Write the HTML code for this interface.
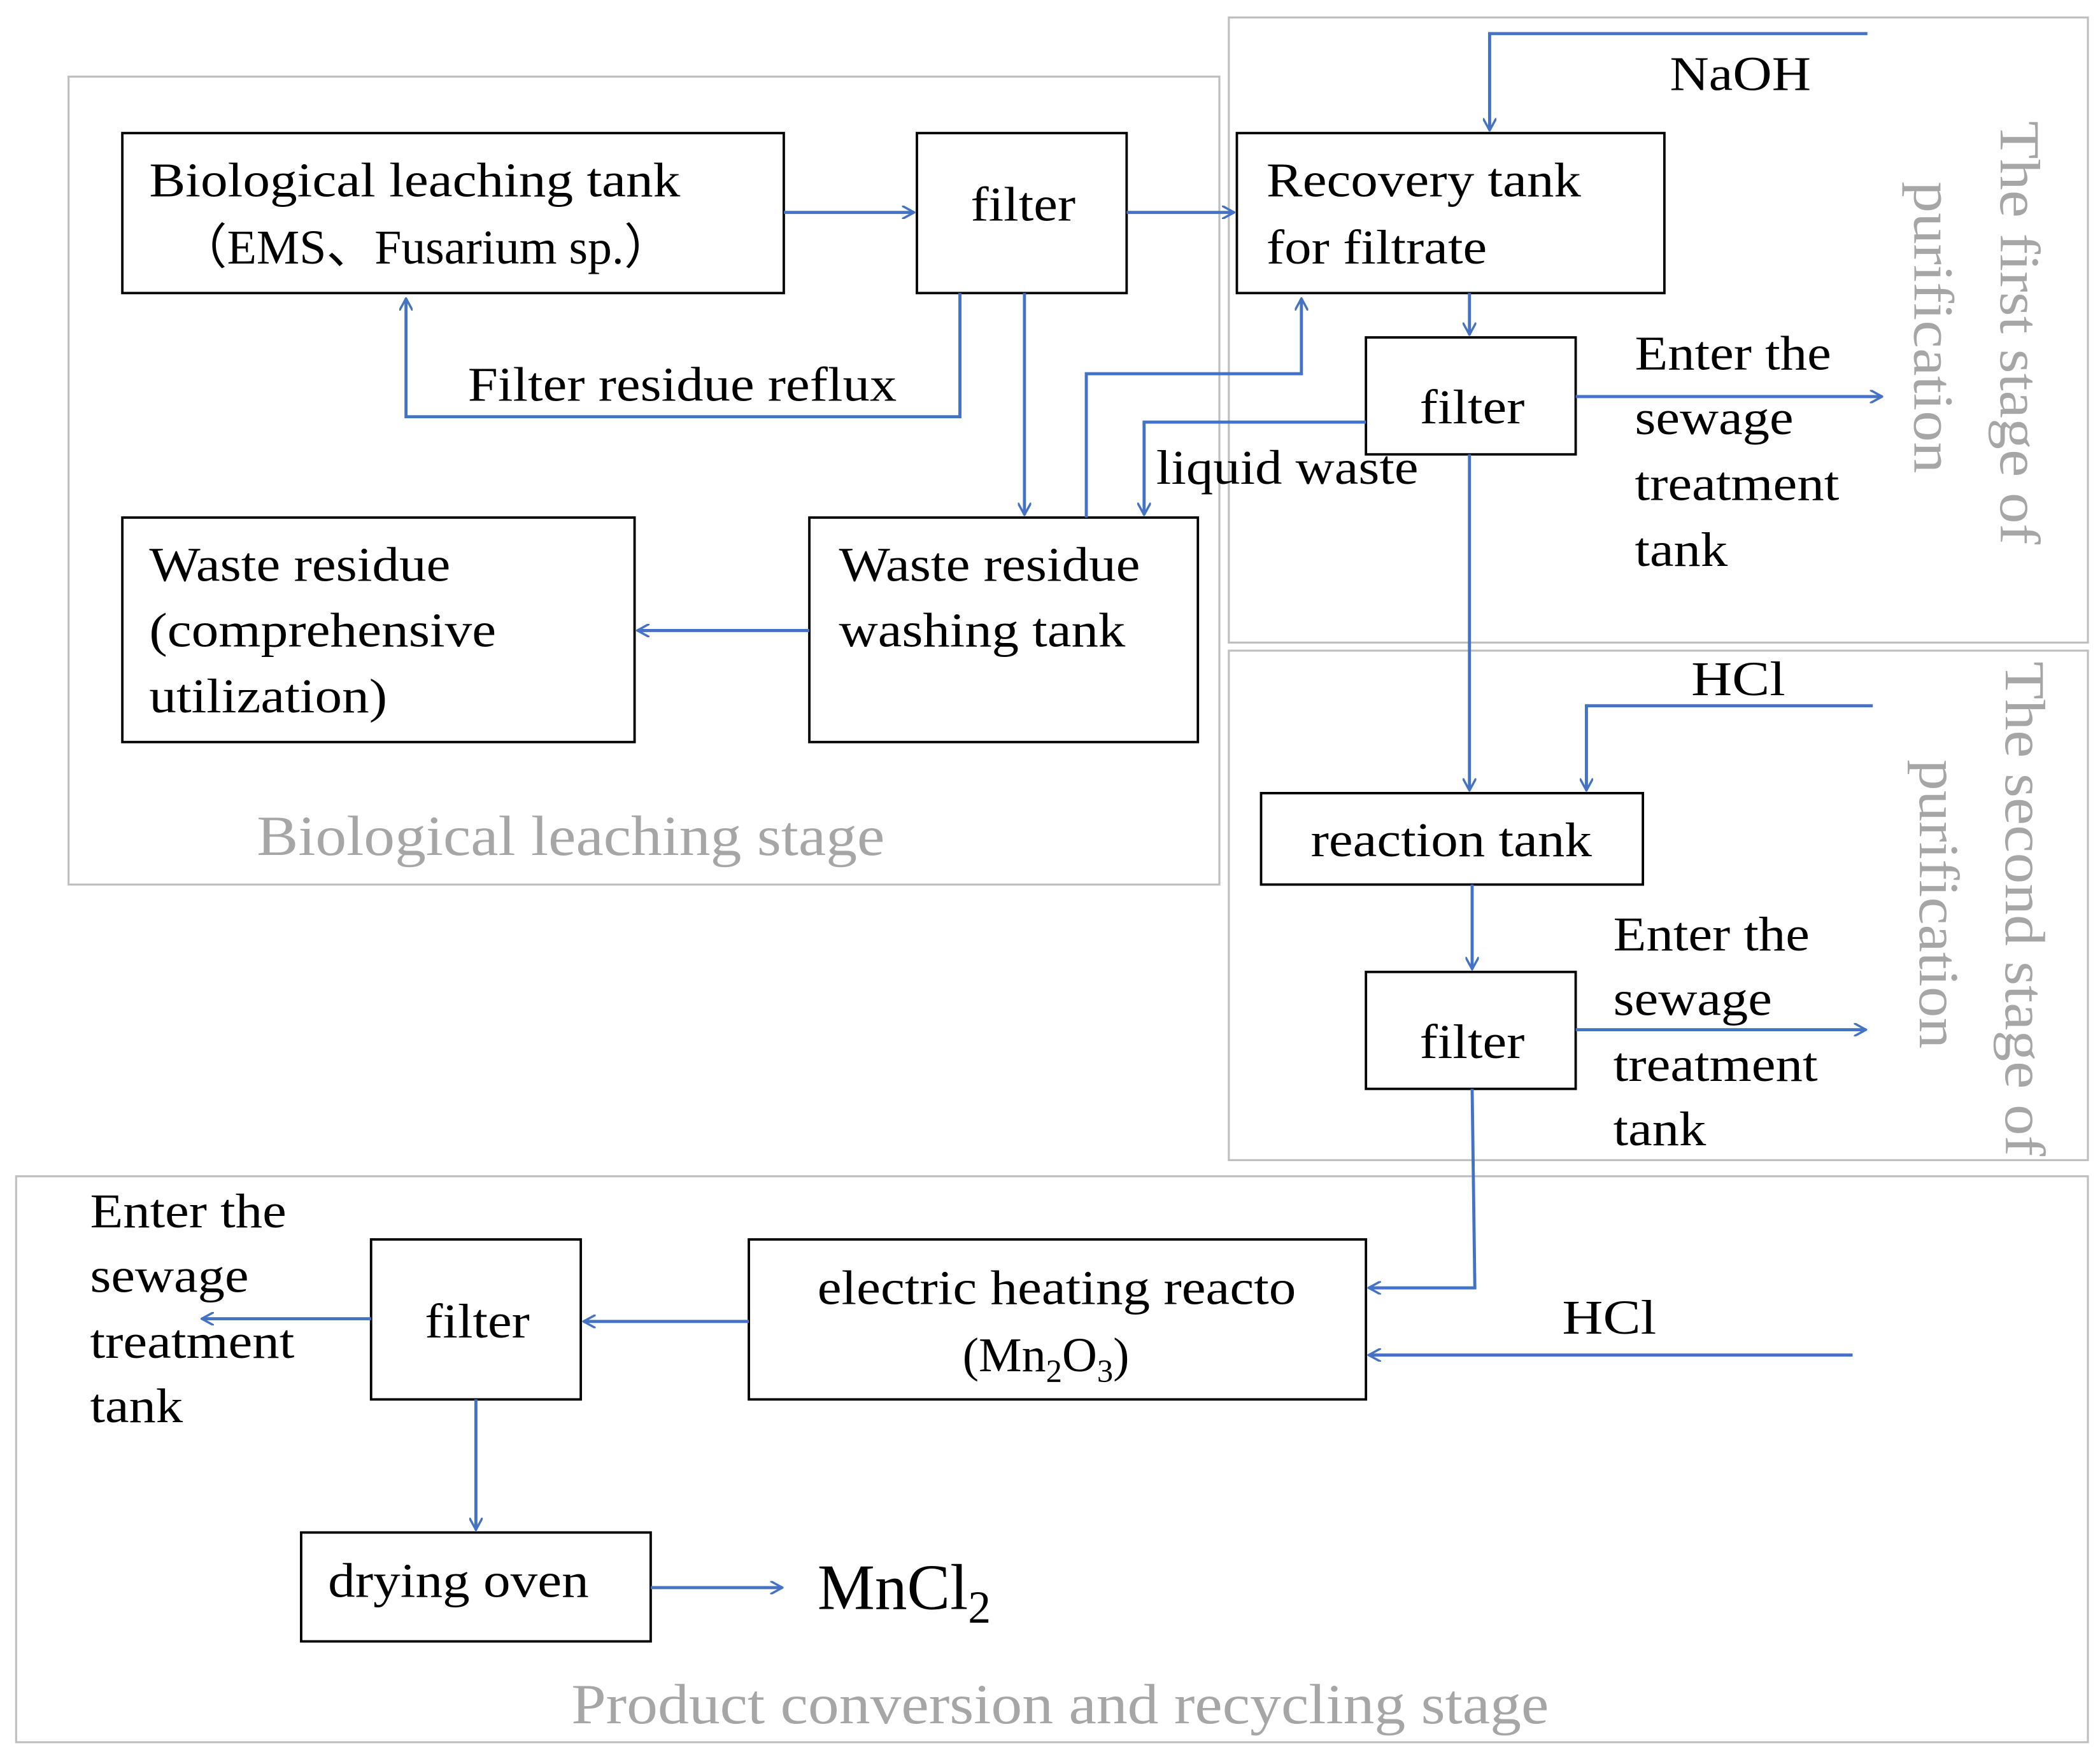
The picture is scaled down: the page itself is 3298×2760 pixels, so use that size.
<!DOCTYPE html>
<html><head><meta charset="utf-8"><style>
html,body{margin:0;padding:0;background:#fff;}
svg{display:block;}
text{font-family:"Liberation Serif",serif;fill:#000;}
.g{fill:#a6a6a6;}
</style></head><body>
<svg width="3298" height="2760" viewBox="0 0 1562 1307" preserveAspectRatio="none" xmlns="http://www.w3.org/2000/svg">
<defs>
<marker id="a" viewBox="0 0 12 12" refX="11" refY="6" markerWidth="10" markerHeight="10" markerUnits="userSpaceOnUse" orient="auto">
<path d="M0,0 L11,6 L0,12" fill="none" stroke="#4472c4" stroke-width="2"/>
</marker>
</defs>
<g fill="none" stroke="#bfbfbf" stroke-width="1.5">
<rect x="51" y="57" width="856" height="601"/>
<rect x="914" y="13" width="639" height="465"/>
<rect x="914" y="484" width="639" height="379"/>
<rect x="12" y="875" width="1541" height="421"/>
</g>
<g fill="none" stroke="#000" stroke-width="1.8">
<rect x="91" y="99" width="492" height="119"/>
<rect x="682" y="99" width="156" height="119"/>
<rect x="920" y="99" width="318" height="119"/>
<rect x="1016" y="251" width="156" height="87"/>
<rect x="91" y="385" width="381" height="167"/>
<rect x="602" y="385" width="289" height="167"/>
<rect x="938" y="590" width="284" height="68"/>
<rect x="1016" y="723" width="156" height="87"/>
<rect x="557" y="922" width="459" height="119"/>
<rect x="276" y="922" width="156" height="119"/>
<rect x="224" y="1140" width="260" height="81"/>
</g>
<g fill="none" stroke="#4472c4" stroke-width="2.3" marker-end="url(#a)">
<path d="M583,158 L680,158"/>
<path d="M838,158 L918,158"/>
<path d="M1389,25 L1108,25 L1108,97"/>
<path d="M1093,218 L1093,249"/>
<path d="M1172,295 L1400,295"/>
<path d="M714,218 L714,310 L302,310 L302,222"/>
<path d="M762,218 L762,383"/>
<path d="M808,385 L808,278 L968,278 L968,222"/>
<path d="M1016,314 L851,314 L851,383"/>
<path d="M602,469 L474,469"/>
<path d="M1093,338 L1093,588"/>
<path d="M1393,525 L1180,525 L1180,588"/>
<path d="M1095,658 L1095,721"/>
<path d="M1172,766 L1388,766"/>
<path d="M1095,810 L1097,958 L1018,958"/>
<path d="M1378,1008 L1018,1008"/>
<path d="M557,983 L434,983"/>
<path d="M276,981 L150,981"/>
<path d="M354,1041 L354,1138"/>
<path d="M484,1181 L582,1181"/>
</g>
<g font-size="36" lengthAdjust="spacingAndGlyphs">
<text x="111" y="146" textLength="395" lengthAdjust="spacingAndGlyphs">Biological leaching tank</text>
<text x="133" y="196" textLength="367" lengthAdjust="spacingAndGlyphs">（EMS、Fusarium sp.）</text>
<text x="722" y="164" textLength="78" lengthAdjust="spacingAndGlyphs">filter</text>
<text x="942" y="146" textLength="234" lengthAdjust="spacingAndGlyphs">Recovery tank</text>
<text x="942" y="196" textLength="164" lengthAdjust="spacingAndGlyphs">for filtrate</text>
<text x="1242" y="67" textLength="105" lengthAdjust="spacingAndGlyphs">NaOH</text>
<text x="348" y="298" textLength="319" lengthAdjust="spacingAndGlyphs">Filter residue reflux</text>
<text x="1056" y="315" textLength="78" lengthAdjust="spacingAndGlyphs">filter</text>
<text x="860" y="360" textLength="195" lengthAdjust="spacingAndGlyphs">liquid waste</text>
<text x="1216" y="275" textLength="146" lengthAdjust="spacingAndGlyphs">Enter the</text>
<text x="1216" y="323" textLength="118" lengthAdjust="spacingAndGlyphs">sewage</text>
<text x="1216" y="372" textLength="152" lengthAdjust="spacingAndGlyphs">treatment</text>
<text x="1216" y="421" textLength="69" lengthAdjust="spacingAndGlyphs">tank</text>
<text x="111" y="432" textLength="224" lengthAdjust="spacingAndGlyphs">Waste residue</text>
<text x="111" y="481" textLength="258" lengthAdjust="spacingAndGlyphs">(comprehensive</text>
<text x="111" y="530" textLength="177" lengthAdjust="spacingAndGlyphs">utilization)</text>
<text x="624" y="432" textLength="224" lengthAdjust="spacingAndGlyphs">Waste residue</text>
<text x="624" y="481" textLength="213" lengthAdjust="spacingAndGlyphs">washing tank</text>
<text x="1258" y="517" textLength="70" lengthAdjust="spacingAndGlyphs">HCl</text>
<text x="975" y="637" textLength="209" lengthAdjust="spacingAndGlyphs">reaction tank</text>
<text x="1056" y="787" textLength="78" lengthAdjust="spacingAndGlyphs">filter</text>
<text x="1200" y="707" textLength="146" lengthAdjust="spacingAndGlyphs">Enter the</text>
<text x="1200" y="755" textLength="118" lengthAdjust="spacingAndGlyphs">sewage</text>
<text x="1200" y="804" textLength="152" lengthAdjust="spacingAndGlyphs">treatment</text>
<text x="1200" y="852" textLength="69" lengthAdjust="spacingAndGlyphs">tank</text>
<text x="67" y="913" textLength="146" lengthAdjust="spacingAndGlyphs">Enter the</text>
<text x="67" y="961" textLength="118" lengthAdjust="spacingAndGlyphs">sewage</text>
<text x="67" y="1010" textLength="152" lengthAdjust="spacingAndGlyphs">treatment</text>
<text x="67" y="1058" textLength="69" lengthAdjust="spacingAndGlyphs">tank</text>
<text x="316" y="995" textLength="78" lengthAdjust="spacingAndGlyphs">filter</text>
<text x="608" y="970" textLength="356" lengthAdjust="spacingAndGlyphs">electric heating reacto</text>
<text x="716" y="1020">(Mn<tspan font-size="24" dy="8">2</tspan><tspan dy="-8">O</tspan><tspan font-size="24" dy="8">3</tspan><tspan dy="-8">)</tspan></text>
<text x="1162" y="992" textLength="70" lengthAdjust="spacingAndGlyphs">HCl</text>
<text x="244" y="1188" textLength="194" lengthAdjust="spacingAndGlyphs">drying oven</text>
<text x="608" y="1197" font-size="48">MnCl<tspan font-size="34" dy="10">2</tspan></text>
</g>
<g font-size="42">
<text class="g" x="191" y="636" textLength="467" lengthAdjust="spacingAndGlyphs">Biological leaching stage</text>
<text class="g" x="425" y="1282" textLength="727" lengthAdjust="spacingAndGlyphs">Product conversion and recycling stage</text>
<text class="g" transform="translate(1488,90) rotate(90)" textLength="315" lengthAdjust="spacingAndGlyphs">The first stage of</text>
<text class="g" transform="translate(1424,135) rotate(90)" textLength="217" lengthAdjust="spacingAndGlyphs">purification</text>
<text class="g" transform="translate(1492,492) rotate(90)" textLength="368" lengthAdjust="spacingAndGlyphs">The second stage of</text>
<text class="g" transform="translate(1428,565) rotate(90)" textLength="215" lengthAdjust="spacingAndGlyphs">purification</text>
</g>
</svg>
</body></html>
